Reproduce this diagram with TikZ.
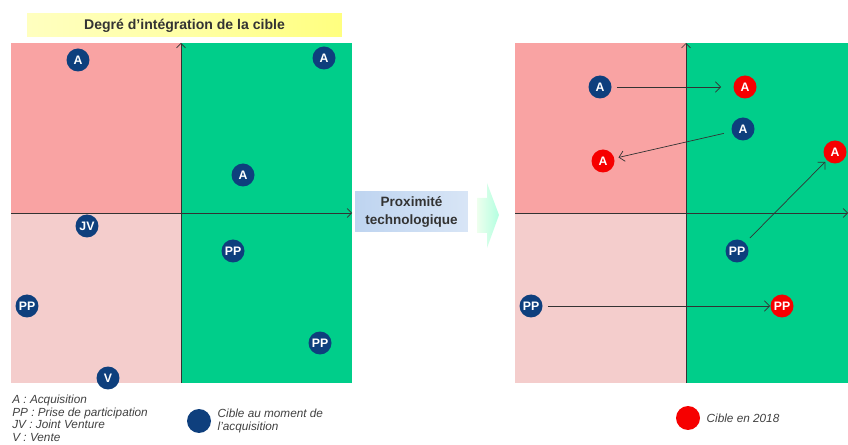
\documentclass[tikz,border=0pt]{standalone}
\usepackage{fontspec}
\setmainfont{Liberation Sans}
\usetikzlibrary{arrows.meta,positioning}

\definecolor{rosefort}{RGB}{249,163,163}
\definecolor{rosepale}{RGB}{244,205,204}
\definecolor{vertq}{RGB}{0,206,138}
\definecolor{bleucible}{RGB}{14,63,125}
\definecolor{rougecible}{RGB}{246,0,0}
\definecolor{bleuboite}{RGB}{190,212,240}

\begin{document}
\begin{tikzpicture}[x=0.02cm,y=-0.02cm,
  cible/.style={circle,fill=bleucible,text=white,inner sep=0pt,minimum size=0.46cm,
    font=\bfseries\fontsize{7}{7}\selectfont},
  cible18/.style={cible,fill=rougecible},
  legende/.style={font=\itshape\fontsize{6.7}{7.1}\selectfont,text=black!75,inner sep=0pt,align=left},
  axe/.style={-{Straight Barb[length=2.5pt,width=5pt]},black!80,thin},
  fleche/.style={-{Straight Barb[length=3pt,width=6pt]},black!80,thin}]
\useasboundingbox (0,0) rectangle (848,445);

% quadrants et axes
\foreach \xl/\xm/\xr in {11/181/352,515/686/848} {
  \fill[rosefort] (\xl,43) rectangle (\xm,213);
  \fill[rosepale] (\xl,213) rectangle (\xm,383);
  \fill[vertq] (\xm,43) rectangle (\xr,383);
  \draw[axe] (\xm,383) -- (\xm,43);
  \draw[axe] (\xl,213) -- (\xr,213);
}

\node[shading=axis,left color=yellow!25,right color=yellow!50,middle color=yellow!35,
  minimum width=6.3cm,minimum height=0.46cm,inner sep=0pt,text=black!80,
  font=\bfseries\fontsize{8}{9}\selectfont] (titre) at (184.5,25.5) {Degré d’intégration de la cible};

\node[left color=bleuboite,right color=bleuboite!60,minimum width=2.26cm,minimum height=0.8cm,
  inner sep=0pt,align=center,text=black!80,font=\bfseries\fontsize{7.7}{10}\selectfont]
  (proxi) at (411.5,212) {Proximité\\technologique};
\shade[left color=green!8,right color=green!40!cyan!35,opacity=0.85]
  (477,198) -- (487,198) -- (487,183) -- (499,215) -- (487,248) -- (487,233) -- (477,233) -- cycle;

% cibles au moment de l'acquisition
\foreach \n/\x/\y/\t in {gA1/78/60/A,gA2/324/58/A,gA3/243/175/A,gJV/87/226/JV,gPP1/233/251/PP,
    gPP2/27/306/PP,gPP3/320/343/PP,gV/108/378/V,bA1/600/87/A,bA2/743/129/A,bPP1/737/251/PP,bPP2/531/306/PP}
  \node[cible] (\n) at (\x,\y) {\t};

% cibles en 2018
\foreach \n/\x/\y/\t in {rA1/745/87/A,rA2/603/161/A,rA3/835/152/A,rPP/782/306/PP}
  \node[cible18] (\n) at (\x,\y) {\t};

\foreach \de/\vers/\sa/\sb in {bA1/rA1/2.8pt/6.8pt,bA2/rA2/4.5pt/2.3pt,bPP1/rA3/3.7pt/1.1pt,bPP2/rPP/2.8pt/0pt}
  \draw[fleche,shorten <=\sa,shorten >=\sb] (\de) -- (\vers);

% legendes
\node[legende,anchor=north west] (codes) at (12,395) {A : Acquisition\\PP : Prise de participation\\JV : Joint Venture\\V : Vente};
\node[cible,minimum size=0.48cm] (legbleu) at (199,421) {};
\node[legende,anchor=west,right=0.12cm of legbleu] (txtbleu) {Cible au moment de\\l’acquisition};
\node[cible18,minimum size=0.48cm] (legrouge) at (688,418) {};
\node[legende,anchor=west,right=0.12cm of legrouge] (txtrouge) {Cible en 2018};
\end{tikzpicture}
\end{document}
